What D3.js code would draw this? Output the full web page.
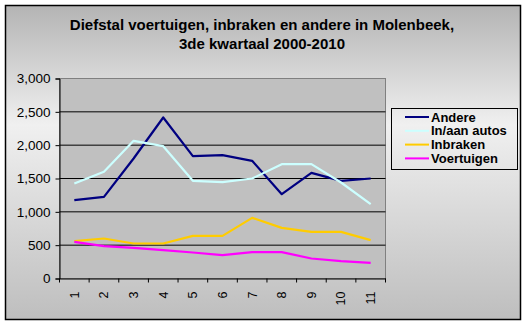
<!DOCTYPE html>
<html><head><meta charset="utf-8">
<script src="https://cdn.jsdelivr.net/npm/d3@7/dist/d3.min.js"></script>
<style>
body{margin:0;background:#fff;}
svg{display:block;font-family:"Liberation Sans",Arial,sans-serif;}
</style></head>
<body>
<svg id="chart" width="527" height="325"></svg>
<script>
const titleLines = ["Diefstal voertuigen, inbraken en andere in Molenbeek,", "3de kwartaal 2000-2010"];
const categories = ["1","2","3","4","5","6","7","8","9","10","11"];
const seriesNames = ["Andere","In/aan autos","Inbraken","Voertuigen"];
const seriesColors = ["#000080","#ccffff","#ffcc00","#ff00ff"];
const andere = [1175,1225,1800,2415,1835,1850,1765,1265,1585,1465,1500];
const inAanAutos = [1425,1600,2065,1985,1465,1445,1500,1715,1715,1440,1115];
const inbraken = [560,600,525,525,640,640,910,760,700,700,575];
const voertuigen = [550,485,460,425,390,350,395,395,300,260,235];
const yTicks = [0,500,1000,1500,2000,2500,3000];

const seriesValues = [andere, inAanAutos, inbraken, voertuigen];
const svg = d3.select("#chart");
const defs = svg.append("defs");
const grad = defs.append("linearGradient").attr("id","bg").attr("x1",0).attr("y1",0).attr("x2",0).attr("y2",1);
grad.append("stop").attr("offset","0%").attr("stop-color","#b4b4b4");
grad.append("stop").attr("offset","38%").attr("stop-color","#f0f0f0");
grad.append("stop").attr("offset","100%").attr("stop-color","#bebebe");

svg.append("rect").attr("x",5.5).attr("y",5.5).attr("width",515).attr("height",314)
  .attr("fill","url(#bg)").attr("stroke","#000").attr("stroke-width",1.5);

svg.append("g").selectAll("text").data(titleLines).join("text")
  .attr("x",262).attr("y",(d,i)=>30+i*19)
  .attr("text-anchor","middle").attr("font-weight","bold").attr("font-size",15)
  .text(d=>d);

const L=59.5, R=385.5, T=78.5, B=278.5;
const x = d3.scaleBand().domain(categories).range([L,R]);
const y = d3.scaleLinear().domain([0,3000]).range([B,T]);

svg.append("rect").attr("x",L).attr("y",T).attr("width",R-L).attr("height",B-T)
  .attr("fill","#c0c0c0").attr("stroke","#808080").attr("stroke-width",1);

svg.append("g").selectAll("line").data(yTicks.filter(v=>v>0 && v<3000)).join("line")
  .attr("x1",L).attr("x2",R).attr("y1",d=>y(d)).attr("y2",d=>y(d))
  .attr("stroke","#000").attr("stroke-width",1);

const yAxis = svg.append("g").attr("transform",`translate(${L},0)`)
  .call(d3.axisLeft(y).tickValues(yTicks).tickFormat(d3.format(",")).tickSizeOuter(0).tickSize(4).tickPadding(5));
yAxis.select(".domain").attr("stroke","#000");
yAxis.selectAll("text").attr("font-size",13.5).attr("font-family","Liberation Sans, Arial, sans-serif").attr("fill","#000");

const xAxis = svg.append("g").attr("transform",`translate(0,${B})`)
  .call(d3.axisBottom(x).tickSize(0).tickFormat(""));
xAxis.select(".domain").attr("stroke","#000");
const bounds = categories.map(c=>x(c)).concat([R]);
svg.append("g").selectAll("line").data(bounds).join("line")
  .attr("x1",d=>d).attr("x2",d=>d).attr("y1",B).attr("y2",B+4).attr("stroke","#000");
svg.append("g").selectAll("text").data(categories).join("text")
  .attr("transform",d=>`translate(${x(d)+x.bandwidth()/2},${B+13}) rotate(-90)`)
  .attr("text-anchor","end").attr("dy","0.35em").attr("font-size",12.5)
  .text(d=>d);

const line = d3.line().x((d,i)=>x(categories[i])+x.bandwidth()/2).y(d=>y(d));
svg.append("g").selectAll("path").data(seriesValues).join("path")
  .attr("d",d=>line(d)).attr("fill","none")
  .attr("stroke",(d,i)=>seriesColors[i]).attr("stroke-width",2.2).attr("stroke-linejoin","round");

const lg = svg.append("g");
lg.append("rect").attr("x",391.5).attr("y",108.5).attr("width",126).attr("height",61)
  .attr("fill","none").attr("stroke","#000");
const items = lg.selectAll("g").data(seriesNames).join("g")
  .attr("transform",(d,i)=>`translate(0,${117+i*13.8})`);
items.append("line").attr("x1",405).attr("x2",429).attr("y1",0).attr("y2",0)
  .attr("stroke",(d,i)=>seriesColors[i]).attr("stroke-width",2);
items.append("text").attr("x",431).attr("dy","0.35em").attr("font-size",13).attr("font-weight","bold")
  .text(d=>d);
</script>
</body></html>
